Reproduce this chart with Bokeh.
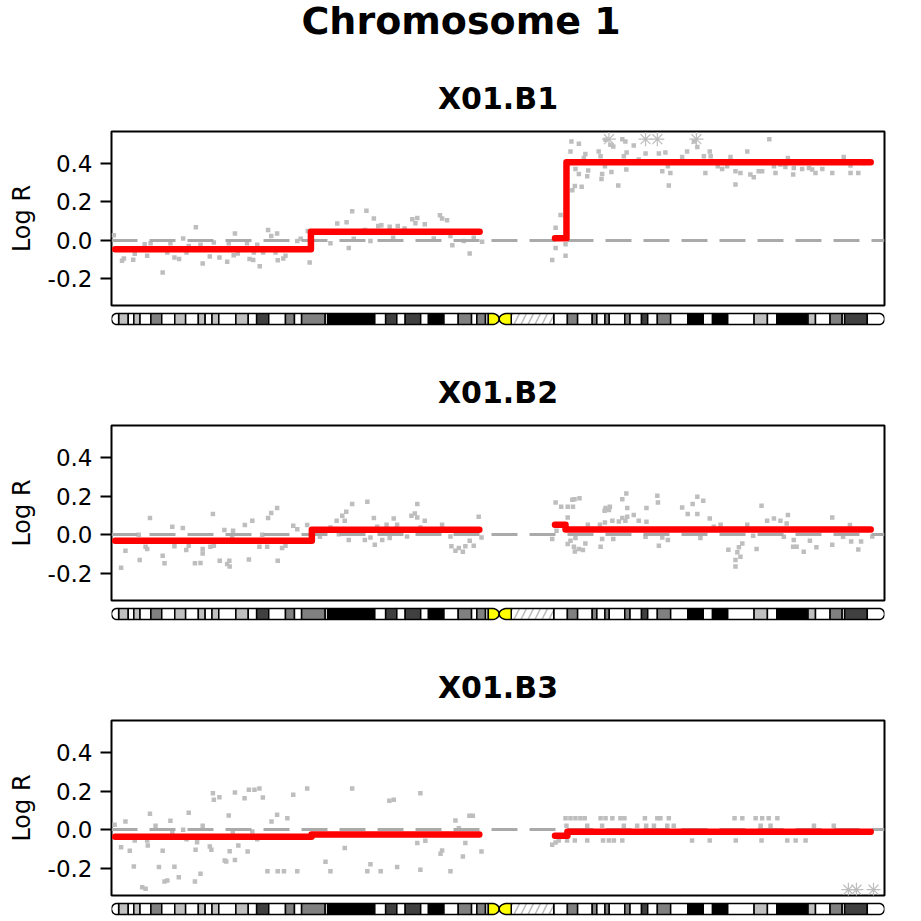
import numpy as np
from bokeh.plotting import figure
from bokeh.layouts import column
from bokeh.models import Range1d, FixedTicker, NumeralTickFormatter, Title
from bokeh.embed import file_html
from bokeh.resources import INLINE
from bokeh.core.properties import value

# ---------------- data ----------------
CHROM_TITLE = "Chromosome 1"
SAMPLES = ["X01.B1", "X01.B2", "X01.B3"]
CHR_LEN = 249.25  # Mb
Y_TICKS = [-0.2, 0.0, 0.2, 0.4]
Y_LABEL = "Log R"
ZERO_LEVEL = [0.0]

# hg19 chr1 cytobands (Mb)
BAND_START = [0.0, 2.3, 5.4, 7.2, 9.2, 12.7, 16.2, 20.4, 23.9, 28.0, 30.2, 32.4, 34.6, 40.1,
              44.1, 46.8, 50.7, 56.1, 59.0, 61.3, 68.9, 69.7, 84.9, 88.4, 92.0, 94.7, 99.7,
              102.2, 107.2, 111.8, 116.1, 117.8, 120.6, 121.5, 125.0, 128.9, 142.6, 147.0,
              150.3, 155.0, 156.5, 159.1, 160.5, 165.5, 167.2, 170.9, 172.9, 176.0, 180.3,
              185.8, 190.8, 193.8, 198.7, 207.2, 211.5, 214.5, 224.1, 224.6, 227.0, 231.7,
              235.6, 236.4, 243.7]
BAND_END = [2.3, 5.4, 7.2, 9.2, 12.7, 16.2, 20.4, 23.9, 28.0, 30.2, 32.4, 34.6, 40.1, 44.1,
            46.8, 50.7, 56.1, 59.0, 61.3, 68.9, 69.7, 84.9, 88.4, 92.0, 94.7, 99.7, 102.2,
            107.2, 111.8, 116.1, 117.8, 120.6, 121.5, 125.0, 128.9, 142.6, 147.0, 150.3,
            155.0, 156.5, 159.1, 160.5, 165.5, 167.2, 170.9, 172.9, 176.0, 180.3, 185.8,
            190.8, 193.8, 198.7, 207.2, 211.5, 214.5, 224.1, 224.6, 227.0, 231.7, 235.6,
            236.4, 243.7, 249.25]
BAND_STAIN = ["gneg", "gpos25", "gneg", "gpos25", "gneg", "gpos50", "gneg", "gpos25", "gneg",
              "gpos25", "gneg", "gpos25", "gneg", "gpos25", "gneg", "gpos75", "gneg", "gpos50",
              "gneg", "gpos50", "gneg", "gpos100", "gneg", "gpos75", "gneg", "gpos75", "gneg",
              "gpos100", "gneg", "gpos50", "gneg", "gpos50", "gneg", "acen", "acen", "gvar",
              "gneg", "gpos50", "gneg", "gpos50", "gneg", "gpos50", "gneg", "gpos50", "gneg",
              "gpos75", "gneg", "gpos50", "gneg", "gpos100", "gneg", "gpos100", "gneg",
              "gpos25", "gneg", "gpos100", "gneg", "gpos25", "gneg", "gpos50", "gneg",
              "gpos75", "gneg"]
STAIN_COLORS = {"gneg": "#FFFFFF", "gpos25": "#C0C0C0", "gpos50": "#808080",
                "gpos75": "#404040", "gpos100": "#000000", "acen": "#FFFF00", "gvar": "#FFFFFF"}

# ---- sample X01.B1 ----
B1_POS = [0.75, 4.0, 3.4, 7.0, 7.5, 11.5, 10.7, 12.6, 16.5, 19.0, 18.0, 20.3, 21.8, 23.1, 24.9,
          24.2, 27.2, 28.7, 29.4, 31.7, 33.0, 34.8, 37.3, 37.8, 39.8, 39.4, 40.7, 43.7, 44.5,
          45.7, 45.9, 47.0, 47.8, 48.9, 50.5, 51.5, 53.4, 52.9, 53.6, 55.4, 56.1, 59.9, 63.9,
          63.3, 61.0, 70.6, 72.8, 75.8, 76.5, 77.6, 78.1, 82.2, 81.7, 84.6, 83.5, 86.0, 87.0,
          89.7, 90.8, 92.3, 94.5, 97.0, 98.6, 98.0, 101.0, 103.9, 105.9, 106.6, 108.2, 109.9,
          109.3, 113.6, 115.5, 116.8, 119.5,
          142.1, 143.2, 146.4, 146.4, 143.2, 144.8, 148.6, 149.4, 151.6, 149.6, 150.7, 153.4,
          153.7, 148.0, 148.3, 150.7, 152.8, 152.3, 157.1, 157.7, 158.2, 158.0, 159.1, 159.3,
          160.9, 161.8, 161.2, 163.4, 164.7, 165.7, 165.2, 166.1, 166.0, 168.4, 170.0, 172.2,
          176.5, 178.6, 177.6, 180.2, 179.7, 179.4, 184.0, 185.6, 187.8, 188.9, 191.0, 192.9,
          193.2, 191.5, 195.5, 196.9, 198.5, 199.6, 201.2, 201.2, 202.8, 205.0, 206.0, 207.1,
          208.7, 209.8, 212.1, 213.6, 214.1, 215.7, 217.3, 218.1, 220.0, 219.8, 222.7, 224.9,
          225.9, 227.0, 229.2, 232.4, 236.1, 238.3, 240.8, 238.3, 242.6, 191.0, 210.3, 231.8]
B1_LOGR = [0.026, -0.095, -0.107, -0.102, -0.071, -0.081, -0.021, -0.016, -0.169, -0.016,
           -0.064, -0.09, -0.098, 0.008, -0.03, -0.064, 0.067, -0.024, -0.121, -0.085, -0.012,
           -0.09, -0.112, -0.016, 0.034, -0.078, -0.069, -0.016, -0.098, -0.103, -0.064,
           -0.024, -0.136, -0.064, 0.053, 0.022, 0.034, -0.064, -0.105, -0.095, -0.081,
           -0.004, -0.116, 0.048, 0.007, -0.016, 0.086, 0.093, -0.041, 0.15, 0.007, 0.153,
           0.053, 0.112, -0.004, 0.074, 0.078, 0.07, 0.013, 0.074, 0.06, 0.108, 0.115, 0.088,
           0.083, 0.008, 0.129, 0.112, 0.103, -0.026, 0.022, -0.004, -0.069, 0.013, -0.009,
           -0.103, -0.041, -0.081, -0.021, 0.065, 0.131, 0.26, 0.281, 0.277, 0.37, 0.344,
           0.332, 0.362, 0.461, 0.513, 0.501, 0.448, 0.427, 0.461, 0.436, 0.344, 0.318, 0.384,
           0.522, 0.496, 0.487, 0.355, 0.284, 0.525, 0.513, 0.436, 0.456, 0.367, 0.492, 0.419,
           0.45, 0.45, 0.456, 0.358, 0.349, 0.284, 0.384, 0.432, 0.461, 0.513, 0.484, 0.436,
           0.461, 0.436, 0.349, 0.384, 0.37, 0.384, 0.432, 0.358, 0.289, 0.349, 0.461, 0.341,
           0.327, 0.358, 0.358, 0.525, 0.384, 0.349, 0.393, 0.38, 0.427, 0.375, 0.341, 0.37,
           0.375, 0.367, 0.349, 0.37, 0.349, 0.432, 0.349, 0.349, 0.388, 0.401, 0.405, 0.405,
           0.41]
B1_OUT_POS = [160.4, 172.2, 176.0, 188.6]
B1_OUT_LOGR = [0.525, 0.525, 0.525, 0.525]
B1_SEG_ARM = ["p", "p", "q", "q"]
B1_SEG_START = [1.2, 64.3, 143.0, 146.7]
B1_SEG_END = [64.3, 118.7, 146.7, 244.8]
B1_SEG_MEAN = [-0.047, 0.043, 0.010, 0.405]

# ---- sample X01.B2 ----
B2_POS = [3.1, 4.5, 9.1, 11.0, 11.5, 12.4, 16.5, 17.1, 19.6, 20.3, 23.0, 24.1, 24.9, 26.9,
          28.7, 29.4, 29.4, 31.9, 32.7, 33.0, 34.9, 36.4, 37.3, 38.0, 38.1, 39.2, 38.9, 43.0,
          44.3, 45.4, 47.7, 50.2, 50.5, 51.5, 53.4, 53.6, 55.0, 56.1, 58.6, 59.9, 63.1, 67.2,
          70.6, 72.6, 74.4, 75.2, 75.7, 76.5, 77.6, 81.7, 82.5, 83.5, 84.6, 84.9, 85.7, 87.3,
          88.7, 89.7, 91.0, 92.1, 95.3, 96.7, 97.8, 98.6, 98.6, 99.6, 101.0, 106.6, 109.3,
          109.6, 110.9, 112.0, 113.3, 114.1, 115.5, 116.8, 118.4, 119.3, 8.8, 48.6, 73.3,
          142.1, 143.2, 145.0, 143.5, 147.1, 147.1, 147.1, 148.0, 148.6, 149.3, 148.8, 150.9,
          149.6, 149.1, 149.4, 150.7, 152.0, 152.8, 153.6, 157.5, 157.7, 158.2, 159.0, 159.3,
          160.7, 160.4, 161.5, 159.1, 161.8, 163.6, 164.7, 164.7, 166.0, 166.3, 165.7, 166.3,
          168.4, 170.0, 172.2, 172.5, 172.5, 176.0, 176.2, 176.5, 177.6, 179.4, 184.0, 185.8,
          187.4, 188.9, 188.9, 190.8, 189.9, 192.9, 194.2, 196.4, 198.9, 201.2, 201.2, 201.8,
          202.8, 202.3, 203.4, 205.0, 206.9, 208.0, 209.6, 211.4, 213.6, 215.7, 217.7, 218.1,
          216.8, 220.0, 219.8, 220.9, 223.2, 225.2, 227.3, 232.4, 232.4, 235.9, 238.1, 238.5,
          240.8, 241.7, 245.3]
B2_LOGR = [-0.171, -0.083, -0.131, -0.062, -0.074, 0.086, -0.109, -0.148, 0.041, -0.06, 0.035,
           -0.079, -0.057, -0.148, -0.146, -0.074, -0.097, -0.062, 0.107, -0.057, -0.134, 0.024,
           -0.151, -0.134, -0.164, 0.021, -0.014, 0.05, -0.128, 0.072, -0.062, -0.062, 0.086,
           0.112, 0.138, -0.134, -0.069, -0.057, 0.047, 0.029, 0.05, -0.01, 0.038, 0.072, 0.098,
           0.072, 0.119, -0.027, 0.159, -0.027, 0.171, -0.014, 0.086, -0.052, 0.041, -0.027,
           0.052, -0.017, 0.084, 0.052, -0.009, 0.098, 0.11, 0.159, 0.089, 0.038, 0.072, 0.052,
           -0.009, -0.06, -0.083, -0.069, -0.088, -0.06, -0.031, -0.057, 0.093, -0.014, 0.0,
           0.0, 0.003,
           -0.022, 0.167, 0.145, 0.021, 0.145, 0.089, -0.048, -0.031, 0.181, 0.184, 0.145,
           0.189, -0.017, -0.062, -0.086, -0.074, -0.079, -0.045, 0.052, 0.052, -0.062, -0.022,
           0.124, 0.138, 0.145, 0.128, 0.072, 0.064, -0.022, 0.069, 0.184, 0.086, 0.213, 0.138,
           0.072, 0.093, 0.102, 0.072, -0.01, 0.138, 0.067, 0.202, 0.167, -0.057, -0.014,
           -0.027, 0.141, 0.107, 0.159, 0.196, 0.107, 0.176, -0.017, 0.084, 0.041, 0.052,
           -0.078, -0.131, -0.164, -0.091, -0.114, -0.065, -0.045, 0.052, -0.005, -0.074, 0.15,
           0.072, 0.084, 0.072, 0.058, 0.102, -0.01, -0.027, -0.062, -0.062, -0.088, -0.031,
           -0.065, 0.089, -0.052, -0.01, 0.05, -0.035, -0.076, -0.035, -0.009]
B2_OUT_POS = []
B2_OUT_LOGR = []
B2_SEG_ARM = ["p", "p", "q", "q"]
B2_SEG_START = [1.2, 64.6, 143.0, 146.4]
B2_SEG_END = [64.6, 118.6, 146.4, 244.8]
B2_SEG_MEAN = [-0.031, 0.026, 0.052, 0.027]

# ---- sample X01.B3 ----
B3_POS = [1.0, 3.1, 4.5, 5.9, 7.2, 7.5, 9.9, 11.0, 11.5, 11.7, 12.4, 14.2, 15.3, 16.5, 17.1,
          18.0, 19.0, 19.6, 20.3, 21.7, 23.1, 24.2, 24.9, 26.9, 27.1, 27.6, 28.7, 29.4, 31.7,
          32.2, 32.7, 33.0, 34.8, 36.5, 37.0, 37.8, 38.1, 39.1, 39.8, 39.8, 40.9, 42.9, 43.9,
          44.3, 46.1, 47.7, 48.8, 47.0, 45.4, 50.3, 51.6, 53.4, 53.6, 55.6, 56.7, 58.6, 59.9,
          63.1, 69.0, 70.6, 75.2, 77.6, 82.5, 83.5, 86.8, 89.6, 91.0, 92.1, 98.6, 99.6, 99.6,
          101.2, 106.1, 106.6, 109.3, 110.9, 112.0, 113.3, 114.1, 115.4, 116.5, 119.3,
          142.1, 143.2,
          146.4, 148.0, 149.6, 151.2, 152.6, 157.7, 159.3, 161.5, 164.1, 165.4, 172.0, 176.0,
          177.0, 179.7, 200.9, 203.4, 207.7, 209.8, 211.9, 214.7,
          146.7, 153.4, 158.2, 165.2, 169.5, 172.4, 174.9, 179.2, 181.3, 209.3, 212.5, 226.5,
          232.9,
          144.2, 146.9, 149.4, 153.4, 158.5, 160.4, 162.0, 164.7, 187.2, 192.9, 201.3, 209.6,
          217.9, 220.6, 223.8]
B3_LOGR = [0.026, -0.091, 0.043, -0.109, -0.19, -0.055, -0.297, -0.305, -0.055, -0.081, 0.083,
           0.021, -0.193, -0.109, -0.267, -0.262, 0.047, -0.014, -0.191, -0.245, 0.0, -0.049,
           0.088, -0.267, -0.103, -0.064, -0.227, 0.021, -0.086, -0.103, 0.189, 0.155, 0.168,
           -0.159, -0.164, 0.074, -0.111, -0.012, 0.193, -0.157, -0.081, 0.163, -0.112, 0.207,
           0.207, 0.213, 0.167, -0.049, -0.009, -0.214, 0.043, 0.078, -0.214, -0.214, 0.06,
           0.181, -0.214, 0.213, -0.165, -0.214, -0.095, 0.213, -0.214, -0.178, -0.214, 0.15,
           0.155, -0.193, -0.069, 0.189, -0.207, -0.057, -0.124, -0.107, -0.214, 0.048, 0.008,
           -0.138, -0.069, 0.072, 0.072, -0.112,
           -0.078, -0.066,
           0.06, 0.06, 0.06, 0.06, 0.06, 0.06, 0.06, 0.06, 0.06, 0.06, 0.06, 0.06, 0.06, 0.06,
           0.06, 0.06, 0.06, 0.06, 0.06, 0.06,
           0.021, 0.021, 0.021, 0.021, 0.021, 0.021, 0.021, 0.021, 0.021, 0.021, 0.021, 0.021,
           0.021,
           -0.055, -0.055, -0.055, -0.055, -0.055, -0.055, -0.055, -0.055, -0.055, -0.055,
           -0.055, -0.055, -0.055, -0.055, -0.055]
B3_OUT_POS = [237.6, 240.2, 245.7]
B3_OUT_LOGR = [-0.31, -0.31, -0.31]
B3_SEG_ARM = ["p", "p", "q", "q"]
B3_SEG_START = [1.2, 64.5, 143.0, 147.0]
B3_SEG_END = [64.5, 118.6, 147.0, 244.8]
B3_SEG_MEAN = [-0.036, -0.024, -0.031, -0.010]

# ---------------- layout / style ----------------
FIG_W = 911
LEFT = 111
RIGHT = 27
FRAME_W = FIG_W - LEFT - RIGHT
FRAME_H = 175
Y_RANGE = (-0.34, 0.565)
FONT = "DejaVu Sans"
POINT_COLOR = "#BEBEBE"
ZERO_COLOR = "#AAAAAA"

xr = Range1d(0, CHR_LEN)


def header(h):
    f = figure(width=FIG_W, height=h, x_range=Range1d(0, FIG_W), y_range=Range1d(h, 0),
               output_backend="svg", toolbar_location=None, x_axis_location=None,
               y_axis_location=None, min_border=0, outline_line_color=None)
    f.grid.visible = False
    f.text(x=[412], y=[20], text=[CHROM_TITLE], text_align="center",
           text_baseline="alphabetic", text_font=value(FONT), text_font_size="38px",
           text_font_style="bold", text_color="black")
    return f


def panel(name, top_border, pos, logr, out_pos, out_logr, seg_arm, seg_start, seg_end, seg_mean):
    p = figure(width=FIG_W, height=top_border + FRAME_H + 2, x_range=xr,
               y_range=Range1d(*Y_RANGE), output_backend="svg", toolbar_location=None,
               x_axis_location=None, title=None, min_border_left=LEFT,
               min_border_right=RIGHT, min_border_top=top_border, min_border_bottom=2)
    p.grid.visible = False
    p.outline_line_color = "black"
    p.outline_line_width = 2
    p.outline_line_alpha = 1.0
    ax = p.yaxis[0]
    ax.ticker = FixedTicker(ticks=Y_TICKS)
    ax.formatter = NumeralTickFormatter(format="0.0")
    ax.axis_label = Y_LABEL
    ax.axis_label_text_font = FONT
    ax.axis_label_text_font_size = "24px"
    ax.axis_label_text_font_style = "normal"
    ax.axis_label_text_color = "black"
    ax.axis_label_standoff = 9
    ax.major_label_text_font = FONT
    ax.major_label_text_font_size = "23px"
    ax.major_label_text_color = "black"
    ax.major_label_standoff = 8
    ax.major_tick_out = 11
    ax.major_tick_in = 0
    ax.minor_tick_out = 0
    ax.minor_tick_in = 0
    ax.major_tick_line_width = 2
    ax.major_tick_line_color = "black"
    ax.axis_line_color = None

    p.add_layout(Title(text=name, align="center", text_font=FONT, text_font_size="30px",
                       text_font_style="bold", text_color="black", standoff=32), "above")

    p.scatter(pos, logr, marker="square", size=4.5, fill_color=POINT_COLOR, line_color=None)
    p.hspan(y=ZERO_LEVEL, line_color=ZERO_COLOR, line_width=3, line_dash="26 12")

    xs, ys = [], []
    for arm in ("p", "q"):
        lx, ly = [], []
        for a, s, e, m in zip(seg_arm, seg_start, seg_end, seg_mean):
            if a == arm:
                lx += [s, e]
                ly += [m, m]
        xs.append(lx)
        ys.append(ly)
    p.multi_line(xs, ys, line_color="red", line_width=6.5, line_cap="round", line_join="round")
    if out_pos:
        p.scatter(out_pos, out_logr, marker="asterisk", size=14, line_color=POINT_COLOR,
                  line_width=1.2)
    return p


def ideogram(h):
    q = figure(width=FIG_W, height=h, x_range=xr, y_range=Range1d(h, 0),
               output_backend="svg", toolbar_location=None, x_axis_location=None,
               y_axis_location=None, min_border_left=LEFT, min_border_right=RIGHT,
               min_border_top=0, min_border_bottom=0, outline_line_color=None)
    q.grid.visible = False
    top, bot = 6.0, 17.0
    mid = (top + bot) / 2
    hh = (bot - top) / 2
    r = hh * CHR_LEN / FRAME_W  # rounded-end radius in Mb
    n = len(BAND_START)
    ql, qr, qc, hl, hr = [], [], [], [], []
    pxs, pys, pcs = [], [], []
    t = np.linspace(0, np.pi, 20)
    for i, (s, e, st) in enumerate(zip(BAND_START, BAND_END, BAND_STAIN)):
        col = STAIN_COLORS[st]
        if i == 0:
            xs_ = list(s + r - r * np.sin(t)) + [e, e]
            ys_ = list(mid - hh * np.cos(t)) + [bot, top]
            pxs.append(xs_); pys.append(ys_); pcs.append(col)
        elif i == n - 1:
            xs_ = [s, s] + list(e - r + r * np.sin(t))
            ys_ = [top, bot] + list(mid + hh * np.cos(t))
            pxs.append(xs_); pys.append(ys_); pcs.append(col)
        elif st == "acen":
            w = e - s
            if BAND_STAIN[i - 1] != "acen":  # p-arm side, narrows to the right
                c = s + 0.35 * w
                xs_ = [s] + list(c + (e - c) * np.sin(t)) + [s]
                ys_ = [top] + list(mid - hh * np.cos(t)) + [bot]
            else:  # q-arm side, narrows to the left
                c = e - 0.35 * w
                xs_ = [e] + list(c - (c - s) * np.sin(t)) + [e]
                ys_ = [top] + list(mid - hh * np.cos(t)) + [bot]
            pxs.append(xs_); pys.append(ys_); pcs.append(col)
        elif st == "gvar":
            hl.append(s); hr.append(e)
        else:
            ql.append(s); qr.append(e); qc.append(col)
    q.quad(left=ql, right=qr, top=top, bottom=bot, fill_color=qc, line_color="black",
           line_width=1.5)
    q.quad(left=hl, right=hr, top=top, bottom=bot, fill_color="white", hatch_pattern="/",
           hatch_color="#BBBBBB", hatch_scale=14, hatch_weight=1.5, line_color="black",
           line_width=1.5)
    q.patches(pxs, pys, fill_color=pcs, line_color="black", line_width=1.5)
    return q


hdr = header(62)
a1 = panel(SAMPLES[0], 68, B1_POS, B1_LOGR, B1_OUT_POS, B1_OUT_LOGR,
           B1_SEG_ARM, B1_SEG_START, B1_SEG_END, B1_SEG_MEAN)
i1 = ideogram(25)
a2 = panel(SAMPLES[1], 93, B2_POS, B2_LOGR, B2_OUT_POS, B2_OUT_LOGR,
           B2_SEG_ARM, B2_SEG_START, B2_SEG_END, B2_SEG_MEAN)
i2 = ideogram(25)
a3 = panel(SAMPLES[2], 93, B3_POS, B3_LOGR, B3_OUT_POS, B3_OUT_LOGR,
           B3_SEG_ARM, B3_SEG_START, B3_SEG_END, B3_SEG_MEAN)
i3 = ideogram(20)

layout = column(hdr, a1, i1, a2, i2, a3, i3)
open("out.html", "w").write(file_html(layout, INLINE))
